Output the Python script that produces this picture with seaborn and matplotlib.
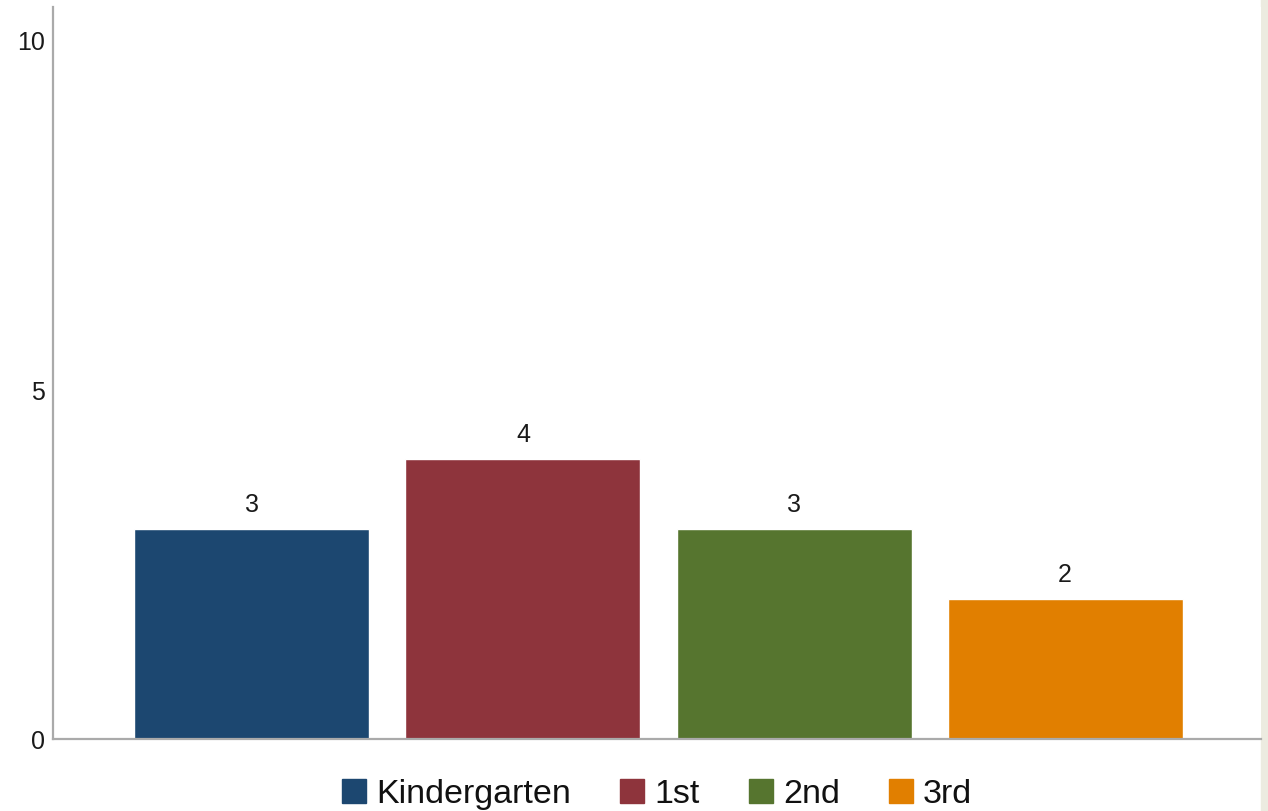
import matplotlib
matplotlib.use("Agg")
import matplotlib.pyplot as plt
from matplotlib.patches import Patch
import seaborn as sns
import pandas as pd

grades = ["Kindergarten", "1st", "2nd", "3rd"]
counts = [3, 4, 3, 2]
colors = ["#1c4770", "#8e343c", "#56752f", "#e17f00"]

sns.set_theme(style="white")
plt.rcParams["font.family"] = ["Liberation Sans", "DejaVu Sans"]

df = pd.DataFrame({"grade": grades, "count": counts})

fig = plt.figure(figsize=(12.68, 8.12), dpi=100)
fig.patch.set_facecolor("white")
# light side strip on the right edge
fig.add_artist(plt.Rectangle((1261 / 1268, 0), 7 / 1268, 1, transform=fig.transFigure,
                             color="#ecebe0", zorder=0))

ax = fig.add_axes([53 / 1268, 1 - 740 / 812, (1261 - 53) / 1268, (740 - 8) / 812])
sns.barplot(data=df, x="grade", y="count", hue="grade", palette=colors,
            dodge=False, width=0.867, legend=False, ax=ax, saturation=1)

for i, v in enumerate(counts):
    ax.annotate(str(v), (i, v), xytext=(0, 9.5), textcoords="offset points",
                ha="center", va="bottom", fontsize=18, color="#1a1a1a")

ax.set_xlim(-0.734, 3.723)
ax.set_ylim(0, 10.46)
ax.set_yticks([0, 5, 10])
ax.set_xticks([])
ax.set_xlabel("")
ax.set_ylabel("")
ax.tick_params(axis="y", labelsize=18, colors="#1a1a1a", length=0, pad=5.5)
for side in ["top", "right"]:
    ax.spines[side].set_visible(False)
for side in ["left", "bottom"]:
    ax.spines[side].set_color("#aaaaaa")
    ax.spines[side].set_linewidth(1.6)

handles = [Patch(facecolor=c, edgecolor=c) for c in colors]
fig.legend(handles, grades, loc="center", bbox_to_anchor=(657 / 1268, 1 - 795 / 812),
           ncol=4, frameon=False, fontsize=24.5, handlelength=0.7, handleheight=0.7,
           handletextpad=0.3, columnspacing=1.45, labelcolor="#111111")

fig.savefig("out.png", dpi=100, facecolor="white")
